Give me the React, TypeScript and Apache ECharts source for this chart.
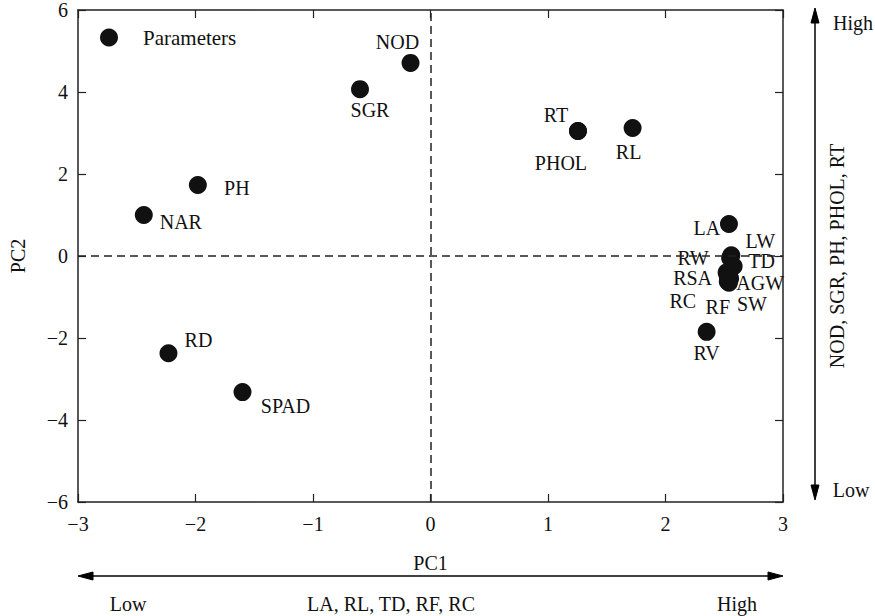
import React, { useEffect, useRef } from "react";
import * as echarts from "echarts";

const names = ["NOD", "SGR", "PH", "NAR", "RD", "SPAD", "RT", "PHOL", "RL", "LA", "LW", "RW", "TD", "RC", "RSA", "AGW", "RF", "SW", "RV"];
const pc1 = [-0.17, -0.6, -1.98, -2.44, -2.23, -1.6, 1.255, 1.255, 1.72, 2.54, 2.56, 2.55, 2.58, 2.53, 2.52, 2.55, 2.53, 2.54, 2.35];
const pc2 = [4.71, 4.07, 1.73, 1.0, -2.37, -3.32, 3.05, 3.05, 3.12, 0.78, 0.02, -0.05, -0.25, -0.5, -0.4, -0.55, -0.62, -0.65, -1.85];
const seriesName = "Parameters";
const xTitle = "PC1";
const yTitle = "PC2";
const bottomLabels = ["Low", "LA, RL, TD, RF, RC", "High"];
const rightLabels = ["High", "NOD, SGR, PH, PHOL, RT", "Low"];

// label placement (style only): offset of each label's centre from its dot, in px
const labelOffset: Record<string, [number, number]> = {
  NOD: [-13, -21],
  SGR: [10, 21],
  PH: [39, 3],
  NAR: [37, 7],
  RD: [30, -13],
  SPAD: [43, 14],
  RT: [-22, -16],
  PHOL: [-17, 32],
  RL: [-4, 24],
  LA: [-22, 4],
  LW: [29, -14],
  RW: [-37, 0],
  TD: [28, -5],
  RC: [-45, 24],
  RSA: [-34, 6],
  AGW: [30, 4],
  RF: [-10, 26],
  SW: [23, 21],
  RV: [0, 21],
};

const FONT = "'Liberation Serif', 'DejaVu Serif', serif";
const FS = 20;
const SYM = 18;

export default function App() {
  const ref = useRef<HTMLDivElement>(null);
  useEffect(() => {
    if (!ref.current) return;
    const chart = echarts.init(ref.current, undefined, { renderer: "svg" });
    const gl = 78, gr = 783, gt = 10, gb = 502;
    const data = names.map((n, i) => {
      const o = labelOffset[n] || [0, 0];
      return {
        name: n,
        value: [pc1[i], pc2[i]],
        label: { position: [SYM / 2 + o[0], SYM / 2 + o[1]] },
      };
    });
    const arrowBlack = { fill: "#000", stroke: "#000" };
    const txt = (text: string, x: number, y: number, extra: any = {}) => ({
      type: "text",
      x,
      y,
      ...extra,
      style: { text, font: `${FS}px ${FONT}`, fill: "#111", textAlign: "center", textVerticalAlign: "middle" },
    });
    const minusFmt = (v: number) => (v < 0 ? "\u2212" + Math.abs(v) : String(v));
    const axisCommon = {
      type: "value",
      axisLine: { show: true, onZero: false, lineStyle: { color: "#222", width: 1.5 } },
      axisTick: { show: true, inside: true, length: 8, lineStyle: { color: "#222", width: 1.2 } },
      splitLine: { show: false },
    };
    chart.setOption({
      animation: false,
      textStyle: { fontFamily: FONT },
      grid: { left: gl, right: 875 - gr, top: gt, bottom: 616 - gb, containLabel: false },
      legend: {
        show: true,
        left: 100,
        top: 27,
        padding: 0,
        icon: "circle",
        itemWidth: 18,
        itemHeight: 18,
        textStyle: { fontFamily: FONT, fontSize: 21, color: "#111", padding: [0, 0, 0, 20] },
        data: [seriesName],
      },
      xAxis: [
        {
          ...axisCommon,
          min: -3,
          max: 3,
          interval: 1,
          position: "bottom",
          axisLabel: { fontFamily: FONT, fontSize: FS, color: "#111", margin: 12, formatter: minusFmt },
          name: xTitle,
          nameLocation: "middle",
          nameGap: 51,
          nameTextStyle: { fontFamily: FONT, fontSize: FS, color: "#111" },
        },
        { ...axisCommon, min: -3, max: 3, interval: 1, position: "top", axisLabel: { show: false } },
      ],
      yAxis: [
        {
          ...axisCommon,
          min: -6,
          max: 6,
          interval: 2,
          position: "left",
          axisLabel: { fontFamily: FONT, fontSize: FS, color: "#111", margin: 10, formatter: minusFmt },
          name: yTitle,
          nameLocation: "middle",
          nameGap: 50,
          nameRotate: 90,
          nameTextStyle: { fontFamily: FONT, fontSize: FS, color: "#111" },
        },
        { ...axisCommon, min: -6, max: 6, interval: 2, position: "right", axisLabel: { show: false } },
      ],
      series: [
        {
          name: seriesName,
          type: "scatter",
          symbol: "circle",
          symbolSize: SYM,
          itemStyle: { color: "#111", opacity: 1 },
          label: {
            show: true,
            formatter: "{b}",
            align: "center",
            verticalAlign: "middle",
            fontFamily: FONT,
            fontSize: FS,
            lineHeight: 16,
            color: "#111",
            textBorderWidth: 0,
          },
          data,
          markLine: {
            silent: true,
            symbol: "none",
            label: { show: false },
            lineStyle: { color: "#222", type: [8, 5], width: 1.5 },
            data: [{ xAxis: 0 }, { yAxis: 0 }],
          },
          z: 3,
        },
      ],
      graphic: [
        { type: "line", shape: { x1: 88, y1: 576, x2: 773, y2: 576 }, style: { stroke: "#000", lineWidth: 1.5 } },
        { type: "polygon", shape: { points: [[78, 576], [93, 572], [93, 580]] }, style: arrowBlack },
        { type: "polygon", shape: { points: [[783, 576], [768, 572], [768, 580]] }, style: arrowBlack },
        txt(bottomLabels[0], 128, 604),
        txt(bottomLabels[1], 391, 604),
        txt(bottomLabels[2], 737, 604),
        { type: "line", shape: { x1: 815, y1: 18, x2: 815, y2: 490 }, style: { stroke: "#000", lineWidth: 1.5 } },
        { type: "polygon", shape: { points: [[815, 8], [811, 23], [819, 23]] }, style: arrowBlack },
        { type: "polygon", shape: { points: [[815, 500], [811, 485], [819, 485]] }, style: arrowBlack },
        txt(rightLabels[0], 853, 23),
        txt(rightLabels[2], 851, 490),
        txt(rightLabels[1], 837, 256, { rotation: Math.PI / 2 }),
      ],
    });
    return () => chart.dispose();
  }, []);
  return <div ref={ref} style={{ width: 875, height: 616, position: "absolute", left: 0, top: 0 }} />;
}
